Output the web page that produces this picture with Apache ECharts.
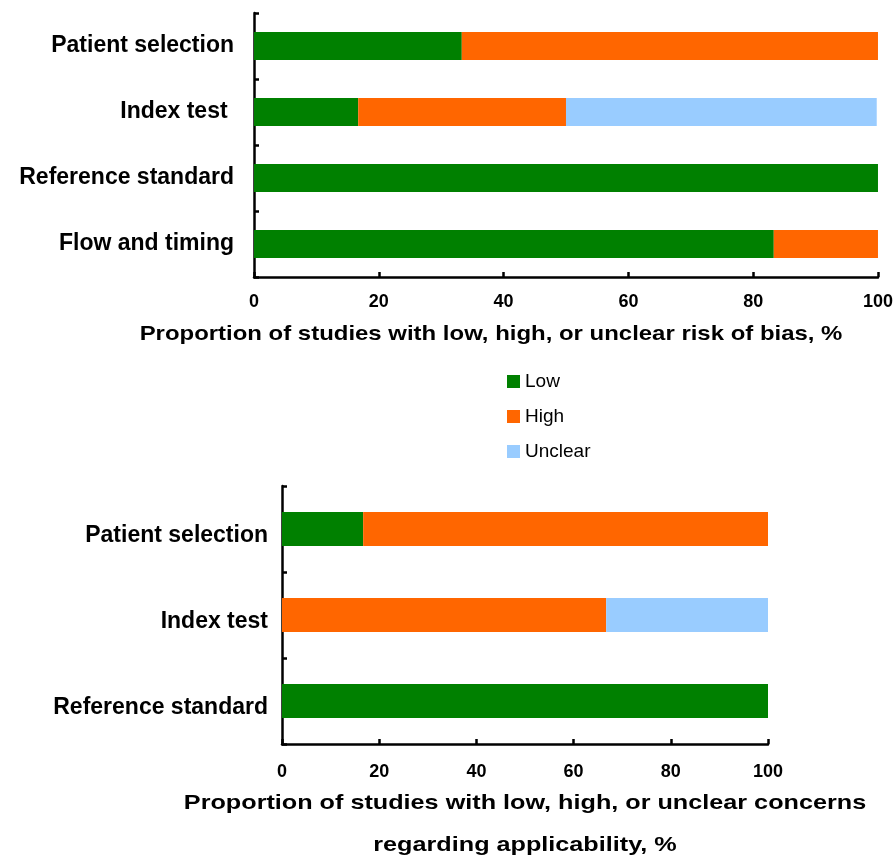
<!DOCTYPE html>
<html>
<head>
<meta charset="utf-8">
<script src="https://cdn.jsdelivr.net/npm/echarts@6/dist/echarts.min.js"></script>
<style>html,body{margin:0;padding:0;background:#fff;}#c{width:896px;height:859px;}</style>
</head>
<body>
<div id="c"></div>
<script>
const categoriesBias = ['Patient selection', 'Index test ', 'Reference standard', 'Flow and timing'];
const biasLow = [33.3, 16.7, 100, 83.3];
const biasHigh = [66.7, 33.3, 0, 16.7];
const biasUnclear = [0, 49.8, 0, 0];

const categoriesApp = ['Patient selection', 'Index test', 'Reference standard'];
const appLow = [16.7, 0, 100];
const appHigh = [83.3, 66.7, 0];
const appUnclear = [0, 33.3, 0];

const xTicks = [0, 20, 40, 60, 80, 100];
const legendNames = ['Low', 'High', 'Unclear'];
const colors = { Low: '#008000', High: '#FF6600', Unclear: '#99CCFF' };

const FONT = 'Liberation Sans, Arial, sans-serif';

function xAxis(gi, margin) {
  return {
    type: 'value', gridIndex: gi, min: xTicks[0], max: xTicks[xTicks.length - 1], interval: 20,
    axisLine: { show: true, lineStyle: { color: '#000', width: 2.5 } },
    axisTick: { show: true, inside: true, length: 5, lineStyle: { color: '#000', width: 2.5 } },
    axisLabel: { color: '#000', fontWeight: 'bold', fontSize: 18, fontFamily: FONT, margin: margin },
    splitLine: { show: false }
  };
}
function yAxis(gi, cats, margin, padTop) {
  return {
    type: 'category', gridIndex: gi, data: cats, inverse: true,
    axisLine: { show: true, lineStyle: { color: '#000', width: 2.5 } },
    axisTick: { show: true, inside: true, length: 5, lineStyle: { color: '#000', width: 2.5 } },
    axisLabel: {
      color: '#000', fontWeight: 'bold', fontSize: 23, fontFamily: FONT, margin: margin,
      formatter: function (v) { return '{a|' + v + '}'; },
      rich: { a: { color: '#000', fontWeight: 'bold', fontSize: 23, fontFamily: FONT, padding: [padTop, 0, 0, 0] } }
    }
  };
}
function bar(name, data, xi, width) {
  return {
    name: name, type: 'bar', stack: 's' + xi, xAxisIndex: xi, yAxisIndex: xi,
    data: data, barWidth: width, itemStyle: { color: colors[name] }, emphasis: { disabled: true }
  };
}

const chart = echarts.init(document.getElementById('c'));
chart.setOption({
  animation: false,
  legend: {
    data: legendNames, orient: 'vertical', left: 502, top: 367,
    icon: 'rect', itemWidth: 13, itemHeight: 13, itemGap: 16, itemTextGap: 6,
    textStyle: { fontSize: 19, color: '#000', fontFamily: FONT }, selectedMode: false
  },
  grid: [
    { left: 254, right: 18, top: 13, height: 264 },
    { left: 282, right: 128, top: 486, height: 258 }
  ],
  xAxis: [xAxis(0, 16), xAxis(1, 19)],
  yAxis: [yAxis(0, categoriesBias, 20, 0), yAxis(1, categoriesApp, 14, 13)],
  series: [
    bar('Low', biasLow, 0, 28), bar('High', biasHigh, 0, 28), bar('Unclear', biasUnclear, 0, 28),
    bar('Low', appLow, 1, 34), bar('High', appHigh, 1, 34), bar('Unclear', appUnclear, 1, 34)
  ],
  graphic: [
    { type: 'text', x: 491, y: 334, scaleX: 1.14, style: { text: 'Proportion of studies with low, high, or unclear risk of bias, %', align: 'center', verticalAlign: 'middle', font: 'bold 21px ' + FONT, fill: '#000' } },
    { type: 'text', x: 525, y: 803, scaleX: 1.2, style: { text: 'Proportion of studies with low, high, or unclear concerns', align: 'center', verticalAlign: 'middle', font: 'bold 21px ' + FONT, fill: '#000' } },
    { type: 'text', x: 525, y: 845, scaleX: 1.2, style: { text: 'regarding applicability, %', align: 'center', verticalAlign: 'middle', font: 'bold 21px ' + FONT, fill: '#000' } }
  ]
});
</script>
</body>
</html>
